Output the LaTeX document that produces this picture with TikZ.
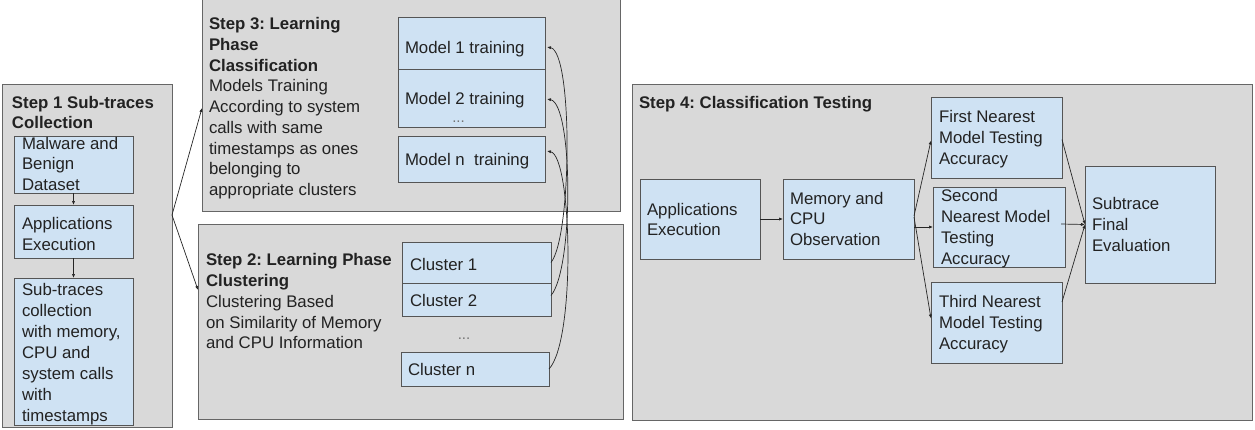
\documentclass[tikz,border=0pt]{standalone}
\usepackage{fontspec}
\setmainfont{Liberation Sans}
\usetikzlibrary{arrows.meta,calc}
\frenchspacing

\definecolor{panelfill}{HTML}{D9D9D9}
\definecolor{panelline}{HTML}{666666}
\definecolor{boxfill}{HTML}{CFE2F3}
\definecolor{boxline}{HTML}{555555}
\definecolor{wire}{HTML}{262626}
\definecolor{ink}{HTML}{222222}

\tikzset{
  sized/.style 2 args={minimum width=#1pt, minimum height=#2pt},
  panel/.style={draw=panelline, fill=panelfill, line width=1pt,
    anchor=north west, inner sep=0pt, outer sep=0pt},
  stepbox/.style={draw=boxline, fill=boxfill, line width=1pt,
    anchor=north west, inner sep=0pt, outer sep=0pt},
  txt/.style={anchor=north west, inner sep=0pt, outer sep=0pt, align=left,
    text=ink, font=\fontsize{16.8}{20.8}\selectfont},
  dots/.style={anchor=base, inner sep=0pt, text=black!55,
    font=\fontsize{15}{18}\selectfont},
  flow/.style={draw=wire, line width=0.7pt, -{Latex[length=4pt,width=3.2pt]}},
}

\begin{document}
\begin{tikzpicture}[x=1pt, y=-1pt]
\useasboundingbox[fill=white] (0,0) rectangle (1255,429);

% ---------- panels ----------
\node[panel, sized={170}{343}] (step1) at (2,84) {};
\node[panel, sized={418}{216}] (step3) at (202,-5) {};
\node[panel, sized={425}{195}] (step2) at (198,224) {};
\node[panel, sized={620}{336}] (step4) at (632,84) {};

% ---------- step 1 ----------
\node[stepbox, sized={119}{57}]  (malware) at (14,136) {};
\node[stepbox, sized={119}{53}]  (exec1)   at (14,205) {};
\node[stepbox, sized={119}{147}] (subtr)   at (14,278) {};

\node[txt, font=\fontsize{16.8}{20}\selectfont] (t-step1) at (12,96.3)
  {\textbf{Step 1 Sub-traces}\\\textbf{Collection}};
\node[txt] (t-malware) at (22,137) {Malware and\\Benign\\Dataset};
\node[txt] (t-exec1) at (22,217.3) {Applications\\Execution};
\node[txt, font=\fontsize{16.8}{21.1}\selectfont] (t-subtr) at (22,283)
  {Sub-traces\\collection\\with memory,\\CPU and\\system calls\\with\\timestamps};

\draw[flow] (malware.south) -- (exec1.north);
\draw[flow] (exec1.south) -- (subtr.north);

% ---------- step 3 ----------
\node[stepbox, sized={147}{52}] (model1) at (398,17) {};
\node[stepbox, sized={147}{58}] (model2) at (398,69) {};
\node[stepbox, sized={147}{46}] (modeln) at (398,136) {};

\node[txt, font=\fontsize{16.8}{20.75}\selectfont] (t-step3) at (209,17.5)
  {\textbf{Step 3: Learning}\\\textbf{Phase}\\\textbf{Classification}\\
   Models Training\\According to system\\calls with same\\
   timestamps as ones\\belonging to\\appropriate clusters};
\node[txt] (t-model1) at (405,41.3) {Model 1 training};
\node[txt] (t-model2) at (405,92.5) {Model 2 training};
\node[dots] (d-models) at (458.5,122) {...};
\node[txt] (t-modeln) at (405,153) {Model n\ \ training};

% ---------- step 2 ----------
\node[stepbox, sized={149}{41}] (cluster1) at (402,242) {};
\node[stepbox, sized={149}{33}] (cluster2) at (402,283) {};
\node[stepbox, sized={148}{34}] (clustern) at (401,352) {};

\node[txt] (t-step2) at (206,253.5)
  {\textbf{Step 2: Learning Phase}\\\textbf{Clustering}\\
   Clustering Based\\on Similarity of Memory\\and CPU Information};
\node[txt] (t-cluster1) at (410,258) {Cluster 1};
\node[txt] (t-cluster2) at (410,294.7) {Cluster 2};
\node[dots] (d-clusters) at (464,339.5) {...};
\node[txt] (t-clustern) at (408,363) {Cluster n};

% step 1 feeds both learning phases
\coordinate (fork) at ($(step1.north east)+(0,131)$);
\draw[flow] (fork) -- ($(step3.north west)+(0,113)$);
\draw[flow] (fork) -- ($(step2.north west)+(0,66)$);

% clusters feed the model trainings
\draw[flow] (cluster1.east) .. controls (572,236) and (573,52) .. ($(model1.east)+(2,4)$);
\draw[flow] ($(cluster2.east)+(0,-4)$) .. controls (574,268) and (573,104) .. ($(model2.east)+(2,1)$);
\draw[flow] (clustern.east) .. controls (576,340) and (572,156) .. ($(modeln.east)+(2,-8)$);

% ---------- step 4 ----------
\node[stepbox, sized={120}{80}]  (exec4)    at (640,179) {};
\node[stepbox, sized={131}{80}]  (observe)  at (783,179) {};
\node[stepbox, sized={131}{81}]  (first)    at (931,97) {};
\node[stepbox, sized={132}{80}]  (second)   at (933,187) {};
\node[stepbox, sized={131}{81}]  (third)    at (931,282) {};
\node[stepbox, sized={130}{117}] (final)    at (1085,166) {};

\node[txt] (t-step4) at (639,96.3) {\textbf{Step 4: Classification Testing}};
\node[txt] (t-exec4) at (647,203) {Applications\\Execution};
\node[txt] (t-observe) at (790,192) {Memory and\\CPU\\Observation};
\node[txt] (t-first) at (939,110.7) {First Nearest\\Model Testing\\Accuracy};
\node[txt] (t-second) at (941,189.7) {Second\\Nearest Model\\Testing\\Accuracy};
\node[txt] (t-third) at (939,295.7) {Third Nearest\\Model Testing\\Accuracy};
\node[txt] (t-final) at (1092,197.3) {Subtrace\\Final\\Evaluation};

\draw[flow] (exec4.east) -- (observe.west);
\draw[flow] ($(observe.east)+(0,-3)$) -- ($(first.west)+(0,3)$);
\draw[flow] (observe.east |- second.west) -- (second.west);
\draw[flow] ($(observe.east)+(0,-2)$) -- ($(third.west)+(0,-4)$);
\draw[flow] ($(first.east)+(0,2)$) -- (final.west);
\draw[flow] ($(second.east)+(-4,-3)$) -- (final.west);
\draw[flow] ($(third.north east)+(0,20)$) -- (final.west);
\end{tikzpicture}
\end{document}
